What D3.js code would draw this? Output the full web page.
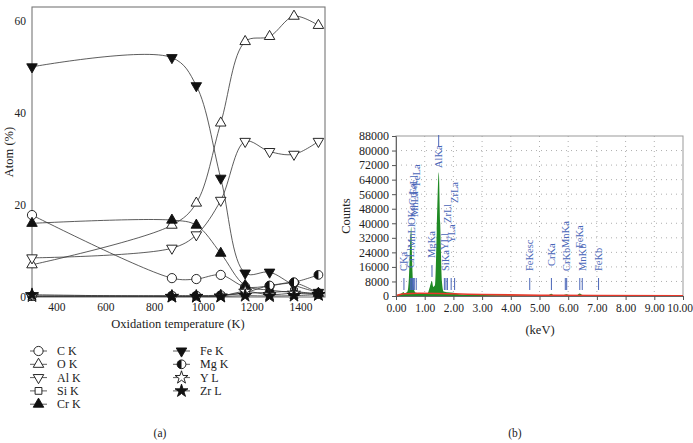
<!DOCTYPE html>
<html><head><meta charset="utf-8">
<script src="https://cdnjs.cloudflare.com/ajax/libs/d3/7.8.5/d3.min.js"></script>
<style>
body{margin:0;background:#fff}
svg{display:block}
text{font-family:"Liberation Serif","DejaVu Serif",serif;fill:#222}
</style>
</head><body>
<svg id="c" width="693" height="443"></svg>
<script>
// ---------- Data: panel (a) ----------
const temps = [300, 873, 973, 1073, 1173, 1273, 1373, 1473];
const cK  = [17.8, 4.1, 3.9, 4.8, 2.2, 2.4, 3.1, 0.8];
const oK  = [7.0, 15.6, 20.4, 37.8, 55.5, 56.6, 61.0, 59.0];
const alK = [8.5, 10.6, 13.5, 21.0, 33.8, 31.6, 31.0, 33.8];
const siK = [0.1, 0.2, 0.2, 0.3, 0.8, 1.0, 1.2, 0.5];
const crK = [16.0, 16.7, 15.6, 9.5, 2.5, 1.5, 1.0, 0.8];
const feK = [50.0, 52.0, 45.9, 25.8, 5.2, 5.4, 2.6, 1.0];
const mgK = [0.2, 0.3, 0.3, 0.4, 1.0, 2.5, 3.2, 4.8];
const yL  = [0.2, 0.1, 0.1, 0.2, 1.2, 0.5, 0.8, 0.5];
const zrL = [0.5, 0.1, 0.1, 0.1, 0.3, 0.2, 0.3, 0.5];
const seriesNames = ["C K","O K","Al K","Si K","Cr K","Fe K","Mg K","Y L","Zr L"];
const yTicksA = [0, 20, 40, 60];
const xTicksA = [400, 600, 800, 1000, 1200, 1400];

// ---------- Data: panel (b) ----------
const specKeV    = [0.00,0.10,0.20,0.26,0.30,0.40,0.45,0.50,0.53,0.56,0.60,0.65,0.70,0.80,0.90,1.00,1.10,1.18,1.25,1.30,1.36,1.42,1.49,1.54,1.60,1.66,1.74,1.80,2.00,2.20,2.50,3.00,4.00,5.00,5.30,5.41,5.50,5.85,5.95,6.05,6.30,6.40,6.50,7.00,8.00,10.00];
const specCounts = [0,500,1500,2200,1500,2500,10000,32000,38000,20000,6000,2500,1800,1500,1400,1300,1600,5000,8200,5000,6000,35000,68000,40000,8000,2500,2200,2000,1800,1000,700,600,400,300,500,1300,500,600,1000,500,500,1400,500,200,150,100];
const bgKeV    = [0.00,0.30,0.80,2.00,3.00,5.00,7.00,10.00];
const bgCounts = [200,1200,1500,1200,800,400,250,150];
const peakNames    = ["CKa","CrLl","MnLl","OKa","CrLa","MnLa","FeLl","FeLa","MgKa","AlKa","SiKa","YLl","ZrLl","YLa","ZrLa","FeKesc","CrKa","CrKb","MnKa","MnKb","FeKa","FeKb"];
const peakEnergies = [0.277,0.500,0.556,0.525,0.573,0.637,0.615,0.705,1.254,1.487,1.740,1.686,1.792,1.922,2.042,4.660,5.415,5.947,5.899,6.490,6.404,7.058];
const yTicksB = [0,8000,16000,24000,32000,40000,48000,56000,64000,72000,80000,88000];
const xTicksB = [0,1,2,3,4,5,6,7,8,9,10];

const svg = d3.select("#c");
const SERIF = "Liberation Serif";

// ================= Panel (a) =================
const xA = d3.scaleLinear([300,1500],[32,325]);
const yA = d3.scaleLinear([0,63],[297,7]);
const gA = svg.append("g");

gA.append("rect").attr("x",32).attr("y",7).attr("width",293).attr("height",290)
  .attr("fill","none").attr("stroke","#777").attr("stroke-width",1.1);

const axL = gA.append("g").attr("transform","translate(32,0)")
  .call(d3.axisLeft(yA).tickValues(yTicksA).tickSize(0).tickPadding(6));
axL.select(".domain").remove();
axL.selectAll("text").style("font-size","11.5px").style("font-family",SERIF).style("fill","#222");

const axB = gA.append("g").attr("transform","translate(0,297)")
  .call(d3.axisBottom(xA).tickValues(xTicksA).tickSize(0).tickPadding(6).tickFormat(d3.format("d")));
axB.select(".domain").remove();
axB.selectAll("text").style("font-size","11.5px").style("font-family",SERIF).style("fill","#222");

gA.append("text").attr("transform","translate(13,152) rotate(-90)").attr("text-anchor","middle")
  .style("font-size","12.5px").text("Atom (%)");
gA.append("text").attr("x",178).attr("y",328).attr("text-anchor","middle")
  .style("font-size","12.5px").text("Oxidation temperature (K)");

const allSeries = [cK,oK,alK,siK,crK,feK,mgK,yL,zrL];
const markerTypes = ["circle","triUp","triDown","square","triUpF","triDownF","half","star","starF"];

const line = d3.line().x((d,i)=>xA(temps[i])).y(d=>yA(d)).curve(d3.curveCatmullRom.alpha(0.5));
allSeries.forEach(s=>{
  gA.append("path").attr("d",line(s)).attr("fill","none").attr("stroke","#333").attr("stroke-width",0.8);
});

function drawMarker(g, type, x, y){
  const stroke="#111", sw=0.9;
  if(type==="circle"){
    g.append("circle").attr("cx",x).attr("cy",y).attr("r",4.6).attr("fill","#fff").attr("stroke",stroke).attr("stroke-width",sw);
  } else if(type==="half"){
    g.append("circle").attr("cx",x).attr("cy",y).attr("r",4.4).attr("fill","#fff").attr("stroke",stroke).attr("stroke-width",sw);
    g.append("path").attr("d",`M${x},${y-4.4} A4.4,4.4 0 0 0 ${x},${y+4.4} Z`).attr("fill","#111");
  } else if(type==="square"){
    g.append("path").attr("d",d3.symbol(d3.symbolSquare,46)()).attr("transform",`translate(${x},${y})`)
      .attr("fill","#fff").attr("stroke",stroke).attr("stroke-width",sw);
  } else if(type==="star" || type==="starF"){
    g.append("path").attr("d",d3.symbol(d3.symbolStar,52)()).attr("transform",`translate(${x},${y})`)
      .attr("fill",type==="starF"?"#111":"#fff").attr("stroke",stroke).attr("stroke-width",sw);
  } else {
    const down = type.startsWith("triDown");
    const filled = type.endsWith("F");
    g.append("path").attr("d",d3.symbol(d3.symbolTriangle,48)())
      .attr("transform",`translate(${x},${y})${down?" rotate(180)":""}`)
      .attr("fill",filled?"#111":"#fff").attr("stroke",stroke).attr("stroke-width",sw);
  }
}

allSeries.forEach((s,k)=>{
  s.forEach((v,i)=>drawMarker(gA, markerTypes[k], xA(temps[i]), yA(v)));
});

// legend
const legCols = [[0,1,2,3,4],[5,6,7,8]];
legCols.forEach((col,ci)=>{
  const lx = ci===0 ? 30 : 173;
  col.forEach((k,ri)=>{
    const ly = 351 + ri*13.3;
    gA.append("line").attr("x1",lx).attr("x2",lx+17).attr("y1",ly).attr("y2",ly).attr("stroke","#333").attr("stroke-width",0.8);
    drawMarker(gA, markerTypes[k], lx+8.5, ly);
    gA.append("text").attr("x",lx+27).attr("y",ly+4).style("font-size","12px").text(seriesNames[k]);
  });
});

svg.append("text").attr("x",160).attr("y",437).attr("text-anchor","middle").style("font-size","11.5px").text("(a)");
svg.append("text").attr("x",515).attr("y",437).attr("text-anchor","middle").style("font-size","11.5px").text("(b)");

// ================= Panel (b) =================
const xB = d3.scaleLinear([0,10],[396,683]);
const yB = d3.scaleLinear([0,88000],[296,136]);
const gB = svg.append("g");

// grid
gB.selectAll(".vg").data(xTicksB.slice(1,-1)).join("line")
  .attr("x1",d=>xB(d)).attr("x2",d=>xB(d)).attr("y1",136).attr("y2",296)
  .attr("stroke","#9a9a9a").attr("stroke-width",0.8).attr("stroke-dasharray","1,4");
gB.selectAll(".hg").data(yTicksB.slice(1,-1)).join("line")
  .attr("x1",396).attr("x2",683).attr("y1",d=>yB(d)).attr("y2",d=>yB(d))
  .attr("stroke","#9a9a9a").attr("stroke-width",0.8).attr("stroke-dasharray","1,4");

gB.append("rect").attr("x",396).attr("y",136).attr("width",287).attr("height",160)
  .attr("fill","none").attr("stroke","#999").attr("stroke-width",1);

// spectrum
const area = d3.area().x((d,i)=>xB(specKeV[i])).y0(yB(0)).y1(d=>yB(d)).curve(d3.curveMonotoneX);
gB.append("path").attr("d",area(specCounts)).attr("fill","#1f8a24");
const bgLine = d3.line().x((d,i)=>xB(bgKeV[i])).y(d=>yB(d)).curve(d3.curveMonotoneX);
gB.append("path").attr("d",bgLine(bgCounts)).attr("fill","none").attr("stroke","#e8382a").attr("stroke-width",1.6);

// axes
const ayB = gB.append("g").attr("transform","translate(396,0)")
  .call(d3.axisLeft(yB).tickValues(yTicksB).tickSize(4).tickPadding(3).tickFormat(d3.format("d")));
ayB.select(".domain").attr("stroke","#666");
ayB.selectAll(".tick line").attr("stroke","#555");
ayB.selectAll("text").style("font-size","12px").style("font-family",SERIF).style("fill","#222");

const axB2 = gB.append("g").attr("transform","translate(0,296)")
  .call(d3.axisBottom(xB).tickValues(xTicksB).tickSize(4).tickPadding(4).tickFormat(d3.format(".2f")));
axB2.select(".domain").attr("stroke","#666");
axB2.selectAll(".tick line").attr("stroke","#555");
axB2.selectAll("text").style("font-size","11.5px").style("font-family",SERIF).style("fill","#222");
axB2.selectAll("text").filter(d=>d===10).attr("text-anchor","end").attr("x",9.5);

gB.append("text").attr("transform","translate(350,216) rotate(-90)").attr("text-anchor","middle")
  .style("font-size","12.5px").text("Counts");
gB.append("text").attr("x",540).attr("y",334).attr("text-anchor","middle")
  .style("font-size","12.5px").text("(keV)");

// peak labels (layout: pixel start heights of each rotated label)
const labelStart = {CKa:271,CrLl:268,MnLl:248,OKa:225,CrLa:205,MnLa:217,FeLl:195,FeLa:186,MgKa:258,AlKa:168,
  SiKa:271,YLl:250,ZrLl:223,YLa:243,ZrLa:203,FeKesc:271,CrKa:266,CrKb:271,MnKa:248,MnKb:271,FeKa:248,FeKb:271};
const blue = "#4a66b8";
peakNames.forEach((n,i)=>{
  const x = xB(peakEnergies[i]);
  const y0 = labelStart[n];
  gB.append("text").attr("transform",`translate(${x+3.5},${y0}) rotate(-90)`)
    .style("font-size","10.5px").style("fill",blue).text(n);
  let l1=278, l2=290;
  if(n==="MgKa"){l1=265;l2=277;}
  if(n==="AlKa"){l1=135;l2=146;}
  gB.append("line").attr("x1",x).attr("x2",x).attr("y1",l1).attr("y2",l2).attr("stroke",blue).attr("stroke-width",1);
});
</script>
</body></html>
